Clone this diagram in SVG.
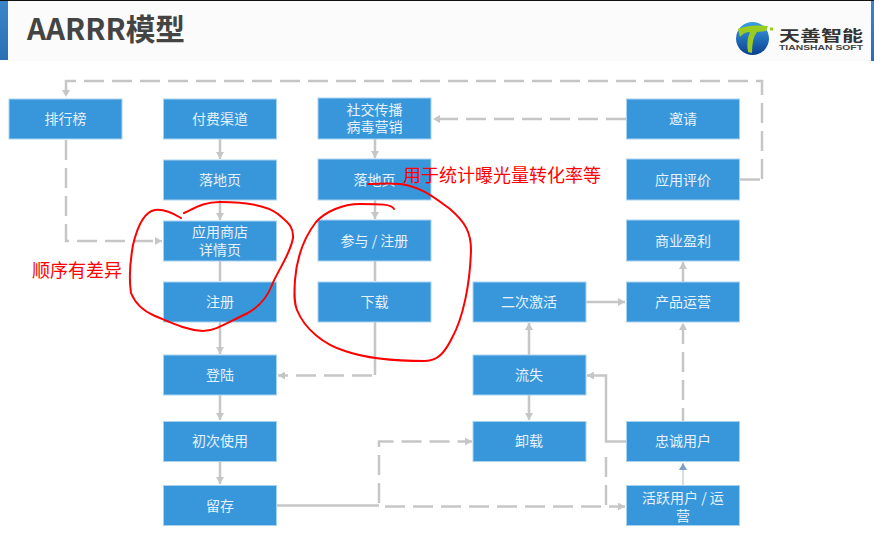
<svg xmlns="http://www.w3.org/2000/svg" width="874" height="541" viewBox="0 0 874 541">
<style>
.n{fill:#3897db;stroke:#a9d2ef;stroke-width:1}
.t{font-family:"Noto Sans CJK SC","Liberation Sans",sans-serif;font-size:14px;fill:#e6f2fb;text-anchor:middle}
.c{fill:none;stroke:#c6c6c6;stroke-width:2.500}
.d{stroke-dasharray:20 8}
.r{fill:none;stroke:#f00;stroke-width:2;stroke-linecap:round}
.rt{font-family:"Noto Sans CJK SC","Liberation Sans",sans-serif;font-size:18px;fill:#f00}
</style>
<defs>
<marker id="a" markerUnits="userSpaceOnUse" markerWidth="8" markerHeight="8" refX="7" refY="4" orient="auto"><path d="M0 0L7 4L0 8z" fill="#c6c6c6"/></marker>
<marker id="b" markerUnits="userSpaceOnUse" markerWidth="8" markerHeight="8" refX="7" refY="4" orient="auto"><path d="M0 0L7 4L0 8z" fill="#7f9fc4"/></marker>
<linearGradient id="g" x1="0" y1="0" x2="0" y2="1"><stop offset="0" stop-color="#3aa0e0"/><stop offset="1" stop-color="#0b3f92"/></linearGradient>
<linearGradient id="h" x1="0" y1="0" x2="0" y2="1"><stop offset="0" stop-color="#3a86c8"/><stop offset="1" stop-color="#2a6fb4"/></linearGradient>
</defs>
<rect width="874" height="541" fill="#fff"/>
<g id="header">
<rect x="8" y="1" width="863" height="60" fill="#fbfbfb"/>
<rect width="874" height="1" fill="#111"/>
<rect y="1" width="8" height="59" fill="url(#h)"/>
<rect x="871" y="1" width="3" height="60" fill="url(#h)"/>
<text x="27" y="40" font-family="'Noto Sans CJK SC','Liberation Sans',sans-serif" font-size="30" font-weight="700" fill="#444" textLength="158" lengthAdjust="spacingAndGlyphs">AARRR模型</text>
</g>
<g id="logo">
<circle cx="752.500" cy="38.500" r="16.500" fill="url(#g)"/>
<path d="M738 29Q748 24 768 26L766 31L757 32Q752 38 752 53L748 52Q746 40 750 32Q744 32 740 37z" fill="#9acb1f"/>
<rect x="770" y="27.500" width="3" height="3" fill="#9acb1f"/>
<text x="779" y="41" font-family="'Noto Sans CJK SC',sans-serif" font-size="15" font-weight="700" fill="#333" textLength="84" lengthAdjust="spacingAndGlyphs">天善智能</text>
<text x="779" y="49.500" font-family="'Liberation Sans',sans-serif" font-size="7" font-weight="700" fill="#444" textLength="84" lengthAdjust="spacingAndGlyphs">TIANSHAN SOFT</text>
</g>
<g id="connectors">
<path class="c d" d="M762 179V81H66V97" marker-end="url(#a)"/>
<path class="c" d="M740 179.500H760"/>
<path class="c d" d="M66 140V241H162" marker-end="url(#a)"/>
<path class="c d" d="M626 119H433" marker-end="url(#a)"/>
<path class="c" d="M220 139V159" marker-end="url(#a)"/>
<path class="c" d="M220 200V220" marker-end="url(#a)"/>
<path class="c" d="M220 261V281"/>
<path class="c" d="M220 322V354" marker-end="url(#a)"/>
<path class="c" d="M220 395V420" marker-end="url(#a)"/>
<path class="c" d="M220 462V484" marker-end="url(#a)"/>
<path class="c" d="M375 139V158" marker-end="url(#a)"/>
<path class="c" d="M375 200V219" marker-end="url(#a)"/>
<path class="c" d="M375 261V281"/>
<path class="c" d="M375 322V375"/>
<path class="c d" d="M372 375.500H278" marker-end="url(#a)"/>
<path class="c" d="M277 505.500H379"/>
<path class="c d" d="M379 503V441.500H472" marker-end="url(#a)"/>
<path class="c d" d="M385 506.500H625" marker-end="url(#a)"/>
<path class="c d" d="M606 505V450"/>
<path class="c" d="M626 441.500H606V375.500H587" marker-end="url(#a)"/>
<path class="c" d="M529 355V323" marker-end="url(#a)"/>
<path class="c" d="M529 395V420" marker-end="url(#a)"/>
<path class="c" d="M586 302H625" marker-end="url(#a)"/>
<path class="c" d="M683 282V262" marker-end="url(#a)"/>
<path class="c d" d="M683 428V323" marker-end="url(#a)"/>
<path d="M683 485V463" fill="none" stroke="#bcc6d0" stroke-width="1.200" marker-end="url(#b)"/>
</g>
<g id="n1"><rect class="n" x="9" y="99" width="113" height="40"/><text class="t" x="65.500" y="124">排行榜</text></g>
<g id="n2"><rect class="n" x="163.500" y="99" width="113" height="40"/><text class="t" x="220" y="124">付费渠道</text></g>
<g id="n3"><rect class="n" x="318" y="98" width="113" height="41"/><text class="t" x="374.500" y="115">社交传播<tspan x="374.500" y="132">病毒营销</tspan></text></g>
<g id="n4"><rect class="n" x="626.500" y="99" width="113" height="40"/><text class="t" x="683" y="124">邀请</text></g>
<g id="n5"><rect class="n" x="163.500" y="160" width="113" height="40"/><text class="t" x="220" y="185">落地页</text></g>
<g id="n6"><rect class="n" x="318" y="159" width="113" height="41"/><text class="t" x="374.500" y="185">落地页</text></g>
<g id="n7"><rect class="n" x="626.500" y="159" width="113" height="41"/><text class="t" x="683" y="185">应用评价</text></g>
<g id="n8"><rect class="n" x="163.500" y="221" width="113" height="40"/><text class="t" x="220" y="237">应用商店<tspan x="220" y="255">详情页</tspan></text></g>
<g id="n9"><rect class="n" x="318" y="220" width="113" height="41"/><text class="t" x="374.500" y="246">参与 / 注册</text></g>
<g id="n10"><rect class="n" x="626.500" y="220" width="113" height="41"/><text class="t" x="683" y="246">商业盈利</text></g>
<g id="n11"><rect class="n" x="163.500" y="282" width="113" height="40"/><text class="t" x="220" y="307">注册</text></g>
<g id="n12"><rect class="n" x="318" y="282" width="113" height="40"/><text class="t" x="374.500" y="307">下载</text></g>
<g id="n13"><rect class="n" x="473" y="282" width="113" height="40"/><text class="t" x="529" y="307">二次激活</text></g>
<g id="n14"><rect class="n" x="626.500" y="282" width="113" height="40"/><text class="t" x="683" y="307">产品运营</text></g>
<g id="n15"><rect class="n" x="163.500" y="355" width="113" height="40"/><text class="t" x="220" y="380">登陆</text></g>
<g id="n16"><rect class="n" x="473" y="355" width="113" height="40"/><text class="t" x="529" y="380">流失</text></g>
<g id="n17"><rect class="n" x="163.500" y="421.500" width="113" height="40"/><text class="t" x="220" y="446">初次使用</text></g>
<g id="n18"><rect class="n" x="473" y="421.500" width="113" height="40"/><text class="t" x="529" y="446">卸载</text></g>
<g id="n19"><rect class="n" x="626.500" y="421.500" width="113" height="40"/><text class="t" x="683" y="446">忠诚用户</text></g>
<g id="n20"><rect class="n" x="163.500" y="485.500" width="113" height="40"/><text class="t" x="220" y="511">留存</text></g>
<g id="n21"><rect class="n" x="626.500" y="485.500" width="113" height="40"/><text class="t" x="683" y="503">活跃用户 / 运<tspan x="683" y="521">营</tspan></text></g>
<g id="annotations">
<path class="r" d="M181 218C171 212 163 209 155 210C143 212 137 228 133 245C130 262 129 280 131 293C135 303 143 311 155 316C170 322 185 330 203 331C216 331 228 322 246 314C258 308 266 300 272 285C278 270 290 255 293 238C294 226 287 222 278 214C265 204 240 202 220 202C203 202 195 208 184 213"/>
<path class="r" d="M394 209C392 204 380 204 360 204C342 204 325 212 316 222C306 235 297 255 295 280C294 295 294 303 297 310C305 330 325 345 345 351C365 358 395 361 425 361C438 361 445 352 452 338C463 318 470 285 471 250C471 232 465 222 450 209C435 198 420 186 400 184C388 183 378 184 368 184"/>
<text class="rt" x="32" y="277">顺序有差异</text>
<text class="rt" x="403" y="182">用于统计曝光量转化率等</text>
</g>
</svg>
